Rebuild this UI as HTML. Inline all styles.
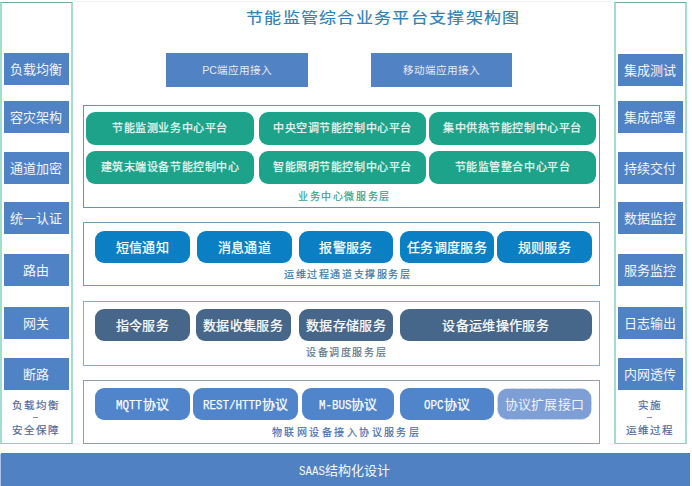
<!DOCTYPE html>
<html lang="zh-CN">
<head>
<meta charset="utf-8">
<style>
*{margin:0;padding:0;box-sizing:border-box;}
html,body{width:692px;height:486px;background:#fff;overflow:hidden;}
body{position:relative;font-family:"Liberation Sans",sans-serif;}
.a{position:absolute;}
.panel{position:absolute;border-style:solid;border-width:1px 2px;border-color:#6eab9c #a3ddcf #8ccfc0 #a3ddcf;}
.sb{position:absolute;width:65px;height:32px;background:#5082c6;color:#f2f5fb;font-size:13px;line-height:34px;text-align:center;padding-right:2px;}
.ptxt{position:absolute;width:72px;text-align:center;color:#52699c;font-size:10.5px;letter-spacing:1.9px;line-height:12px;-webkit-text-stroke:0.2px currentColor;}
.dash{position:absolute;width:5px;height:1px;background:#7f90b8;}
.title{position:absolute;left:246px;top:6.5px;font-size:17px;line-height:24px;transform:scaleY(.88);transform-origin:0 9px;-webkit-text-stroke:0.2px #2c82b6;color:#2c82b6;white-space:nowrap;letter-spacing:1.3px;}
.top{position:absolute;top:53px;height:34px;background:#5082c4;color:#e4ebf6;font-size:10.6px;line-height:35px;text-align:center;font-family:"Liberation Serif",serif;}
.top b{font-weight:normal;font-family:"Liberation Sans",sans-serif;}
.layer{position:absolute;left:83px;width:517px;border:1px solid #5a84a4;}
.pill{position:absolute;border-radius:9px;color:#fff;text-align:center;white-space:nowrap;-webkit-text-stroke:0.25px currentColor;}
.g{background:#1ea38b;height:33px;line-height:33px;font-size:11px;letter-spacing:0.55px;color:#eaf5f1;}
.bl{background:#0a7fc4;height:32px;line-height:33px;font-size:13px;letter-spacing:0.3px;}
.dk{background:#46668a;height:32.5px;line-height:33px;font-size:13px;letter-spacing:0.3px;}
.pr{background:#5085cc;height:32px;line-height:33px;font-size:13px;}
.mono{display:inline-block;font-family:"Liberation Mono",monospace;font-size:13px;transform:scaleX(.833);transform-origin:0 50%;}
.lbl{position:absolute;font-size:10px;letter-spacing:1.6px;white-space:nowrap;line-height:12px;-webkit-text-stroke:0.2px currentColor;}
.bottom{position:absolute;left:1px;top:453px;width:689px;height:33px;background:#5082c3;color:#f4f7fc;font-size:13px;line-height:32px;}
</style>
</head>
<body>
<!-- left panel -->
<div class="panel" style="left:0;top:2px;width:73px;height:442px;"></div>
<div class="sb" style="left:4px;top:53px;">负载均衡</div>
<div class="sb" style="left:4px;top:101px;">容灾架构</div>
<div class="sb" style="left:4px;top:152px;">通道加密</div>
<div class="sb" style="left:4px;top:202px;">统一认证</div>
<div class="sb" style="left:4px;top:254px;">路由</div>
<div class="sb" style="left:4px;top:307px;">网关</div>
<div class="sb" style="left:4px;top:358px;">断路</div>
<div class="ptxt" style="left:0;top:399px;">负载均衡</div>
<div class="dash" style="left:33px;top:417px;"></div>
<div class="ptxt" style="left:0;top:424px;">安全保障</div>

<!-- right panel -->
<div class="panel" style="left:614px;top:2px;width:73px;height:442px;"></div>
<div class="sb" style="left:618px;top:54px;">集成测试</div>
<div class="sb" style="left:618px;top:101px;">集成部署</div>
<div class="sb" style="left:618px;top:152px;">持续交付</div>
<div class="sb" style="left:618px;top:202px;">数据监控</div>
<div class="sb" style="left:618px;top:254px;">服务监控</div>
<div class="sb" style="left:618px;top:307px;">日志输出</div>
<div class="sb" style="left:618px;top:358px;">内网透传</div>
<div class="ptxt" style="left:614px;top:399px;">实施</div>
<div class="dash" style="left:647px;top:417px;"></div>
<div class="ptxt" style="left:614px;top:424px;">运维过程</div>

<div class="a" style="left:75px;top:1px;width:536px;height:1px;background:#f1f1f1;"></div>
<!-- title -->
<div class="title">节能监管综合业务平台支撑架构图</div>

<div class="top" style="left:166px;width:142px;"><b>PC</b>端应用接入</div>
<div class="top" style="left:371px;width:141px;">移动端应用接入</div>

<!-- layer 1 -->
<div class="layer" style="top:105px;height:103px;border-color:#6a92ad;"></div>
<div class="pill g" style="left:86px;top:112px;width:168px;">节能监测业务中心平台</div>
<div class="pill g" style="left:259px;top:112px;width:167px;">中央空调节能控制中心平台</div>
<div class="pill g" style="left:429px;top:112px;width:167px;">集中供热节能控制中心平台</div>
<div class="pill g" style="left:86px;top:151px;width:168px;">建筑末端设备节能控制中心</div>
<div class="pill g" style="left:259px;top:151px;width:167px;">智能照明节能控制中心平台</div>
<div class="pill g" style="left:429px;top:151px;width:167px;">节能监管整合中心平台</div>
<div class="lbl" style="left:298px;top:191px;color:#3aa38a;">业务中心微服务层</div>

<!-- layer 2 -->
<div class="layer" style="top:222px;height:64px;border-color:#6f9cb2;"></div>
<div class="pill bl" style="left:95px;top:231px;width:95px;">短信通知</div>
<div class="pill bl" style="left:197px;top:231px;width:95px;">消息通道</div>
<div class="pill bl" style="left:299px;top:231px;width:94px;">报警服务</div>
<div class="pill bl" style="left:400px;top:231px;width:94px;">任务调度服务</div>
<div class="pill bl" style="left:497px;top:231px;width:95px;">规则服务</div>
<div class="lbl" style="left:284px;top:269px;color:#3a7aa8;">运维过程通道支撑服务层</div>

<!-- layer 3 -->
<div class="layer" style="top:301px;height:65px;border-color:#8aabc0;"></div>
<div class="pill dk" style="left:95px;top:308.7px;width:95px;">指令服务</div>
<div class="pill dk" style="left:195.5px;top:308.7px;width:95px;">数据收集服务</div>
<div class="pill dk" style="left:299px;top:308.7px;width:94px;">数据存储服务</div>
<div class="pill dk" style="left:399.6px;top:308.7px;width:192.2px;">设备运维操作服务</div>
<div class="lbl" style="left:306px;top:347px;color:#607890;">设备调度服务层</div>

<!-- layer 4 -->
<div class="layer" style="top:380px;height:64px;border-color:#959db0;"></div>
<div class="pill pr" style="left:95px;top:387.5px;width:95px;"><span class="mono" style="margin-right:-5.2px">MQTT</span>协议</div>
<div class="pill pr" style="left:193px;top:387.5px;width:105px;"><span class="mono" style="margin-right:-11.7px">REST/HTTP</span>协议</div>
<div class="pill pr" style="left:302px;top:387.5px;width:92px;"><span class="mono" style="margin-right:-6.5px">M-BUS</span>协议</div>
<div class="pill pr" style="left:399.5px;top:387.5px;width:94.5px;"><span class="mono" style="margin-right:-3.9px">OPC</span>协议</div>
<svg class="a" style="left:497px;top:387.5px;" width="95" height="32"><rect x="0.5" y="0.5" width="94" height="31" rx="10" fill="#7e9fd6" stroke="#d3def2" stroke-width="1" stroke-dasharray="5 3"/></svg>
<div class="pill" style="left:497px;top:387.5px;width:95px;height:32px;line-height:33px;font-size:13px;color:#eef2f9;letter-spacing:0.3px;-webkit-text-stroke:0;">协议扩展接口</div>
<div class="lbl" style="left:272px;top:427px;color:#4a70b4;letter-spacing:2.45px;">物联网设备接入协议服务层</div>

<div class="a" style="left:0;top:454px;width:1px;height:32px;background:#a9c4ea;"></div>
<div class="bottom"><span style="position:absolute;left:298px;top:2px;"><span class="mono" style="margin-right:-5.2px">SAAS</span>结构化设计</span></div>
</body>
</html>
